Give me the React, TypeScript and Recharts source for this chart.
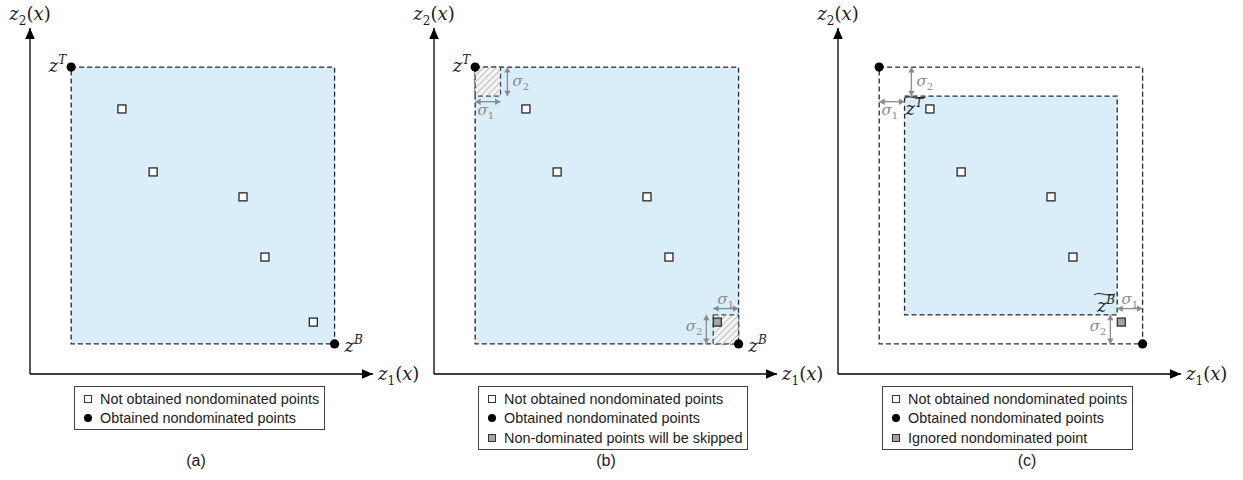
import type { ReactNode } from 'react';
import {
  ScatterChart,
  Scatter,
  XAxis,
  YAxis,
  ReferenceArea,
  ReferenceLine,
  Legend,
} from 'recharts';

// objective space, both axes on a 0..100 scale
const NOT_OBTAINED = [
  { x: 26.8, y: 76.6 },
  { x: 35.9, y: 58.4 },
  { x: 62.1, y: 51.2 },
  { x: 68.5, y: 33.8 },
];
// the nondominated point closest to z^B
const EDGE_POINT = [{ x: 82.6, y: 15.0 }];
const Z_TOP = { x: 12.0, y: 88.7 };
const Z_BOTTOM = { x: 88.8, y: 8.7 };
const SIGMA_1 = 7.4;
const SIGMA_2 = 8.4;

type MarkerKind = 'open' | 'dot' | 'gray';
interface LegendItem {
  marker: MarkerKind;
  text: string;
}

const LEGEND_A: LegendItem[] = [
  { marker: 'open', text: 'Not obtained nondominated points' },
  { marker: 'dot', text: 'Obtained nondominated points' },
];
const LEGEND_B: LegendItem[] = [
  ...LEGEND_A,
  { marker: 'gray', text: 'Non-dominated points will be skipped' },
];
const LEGEND_C: LegendItem[] = [
  ...LEGEND_A,
  { marker: 'gray', text: 'Ignored nondominated point' },
];

const BLUE = '#daeef9';
const INK = '#1c1c1c';
const DIM = '#8a8a8a';
const SERIF = "'DejaVu Serif', 'Liberation Serif', serif";
const SANS = "'Liberation Sans', Arial, sans-serif";

const CHART_W = 435;
const CHART_H = 480;
const MARGIN = { top: 28, right: 62, bottom: 106, left: 30 };

// ---------- point shapes ----------

const OpenSquare = (p: any) => (
  <rect x={p.cx - 4} y={p.cy - 4} width={8} height={8} fill="#fff" stroke="#262626" strokeWidth={1.3} />
);

const GraySquare = (p: any) => (
  <rect x={p.cx - 4} y={p.cy - 4} width={8} height={8} fill="#a3a3a3" stroke="#333" strokeWidth={1.3} />
);

function ZText({ x, y, sup, anchor = 'start' }: { x: number; y: number; sup: string; anchor?: 'start' | 'end' }) {
  return (
    <text x={x} y={y} textAnchor={anchor} fontFamily={SERIF} fontSize={18} fill={INK} fontStyle="italic">
      z
      <tspan dy={-8} fontSize={12}>
        {sup}
      </tspan>
    </text>
  );
}

const CornerDot = (p: any) => {
  const tag = p.payload?.tag as string | undefined;
  return (
    <g>
      <circle cx={p.cx} cy={p.cy} r={4.6} fill="#000" />
      {tag === 'T' && <ZText x={p.cx - 5} y={p.cy + 5} sup="T" anchor="end" />}
      {tag === 'B' && <ZText x={p.cx + 10} y={p.cy + 8} sup="B" />}
    </g>
  );
};

// z with a wide tilde over it, for the shrunken box corners
function tildeLabel(sup: string, dx: number, dy: number, anchor: 'start' | 'end') {
  return (p: any) => {
    const { x1, y1 } = p;
    const tx = x1 + dx;
    const ty = y1 + dy;
    const left = anchor === 'start' ? tx - 1 : tx - 21;
    const top = ty - 18;
    return (
      <g>
        <ZText x={tx} y={ty} sup={sup} anchor={anchor} />
        <path
          d={`M${left},${top + 1} C${left + 6},${top - 3} ${left + 14},${top + 4} ${left + 21},${top}`}
          fill="none"
          stroke={INK}
          strokeWidth={1}
        />
      </g>
    );
  };
}

// ---------- arrows ----------

function head(x1: number, y1: number, x2: number, y2: number, len: number, half: number) {
  const d = Math.hypot(x2 - x1, y2 - y1) || 1;
  const ux = (x2 - x1) / d;
  const uy = (y2 - y1) / d;
  const bx = x2 - ux * len;
  const by = y2 - uy * len;
  return `${x2},${y2} ${bx - uy * half},${by + ux * half} ${bx + uy * half},${by - ux * half}`;
}

function axisArrow(label: ReactNode, lx: number, ly: number, anchor: 'start' | 'middle') {
  return (p: any) => {
    const { x1, y1, x2, y2 } = p;
    return (
      <g>
        <line x1={x1} y1={y1} x2={x2} y2={y2} stroke="#000" strokeWidth={1.3} />
        <polygon points={head(x1, y1, x2, y2, 11, 4.8)} fill="#000" />
        <text x={x2 + lx} y={y2 + ly} textAnchor={anchor} fontFamily={SERIF} fontSize={18} fill={INK}>
          {label}
        </text>
      </g>
    );
  };
}

const axisText = (n: string) => (
  <>
    <tspan fontStyle="italic">z</tspan>
    <tspan dy={5} fontSize={12}>
      {n}
    </tspan>
    <tspan dy={-5}>(</tspan>
    <tspan fontStyle="italic">x</tspan>)
  </>
);

function sigmaArrow(n: string, lx: number, ly: number, anchor: 'start' | 'middle' | 'end') {
  return (p: any) => {
    const { x1, y1, x2, y2 } = p;
    const mx = (x1 + x2) / 2;
    const my = (y1 + y2) / 2;
    return (
      <g>
        <line x1={x1} y1={y1} x2={x2} y2={y2} stroke={DIM} strokeWidth={1.3} />
        <polygon points={head(x1, y1, x2, y2, 5.5, 3.2)} fill={DIM} />
        <polygon points={head(x2, y2, x1, y1, 5.5, 3.2)} fill={DIM} />
        <text x={mx + lx} y={my + ly} textAnchor={anchor} fontFamily={SERIF} fontSize={15} fill={DIM}>
          <tspan fontStyle="italic">σ</tspan>
          <tspan dy={4} fontSize={10}>
            {n}
          </tspan>
        </text>
      </g>
    );
  };
}

const hatchShape = (id: string) => (p: any) => (
  <g>
    <defs>
      <pattern id={id} width={4.5} height={4.5} patternUnits="userSpaceOnUse" patternTransform="rotate(45)">
        <rect width={4.5} height={4.5} fill="#f4f4f4" />
        <line x1={0} y1={0} x2={0} y2={4.5} stroke="#9b9b9b" strokeWidth={1.2} />
      </pattern>
    </defs>
    <rect
      x={p.x}
      y={p.y}
      width={p.width}
      height={p.height}
      fill={`url(#${id})`}
      stroke="#3f4d5c"
      strokeWidth={1.3}
      strokeDasharray="5 3"
    />
  </g>
);

// ---------- legend ----------

function Marker({ kind }: { kind: MarkerKind }) {
  if (kind === 'dot') {
    return <span style={{ width: 8, height: 8, borderRadius: '50%', background: '#000' }} />;
  }
  return (
    <span
      style={{
        width: 6,
        height: 6,
        border: '1.2px solid #333',
        background: kind === 'gray' ? '#a3a3a3' : '#fff',
      }}
    />
  );
}

function LegendBox({ items }: { items: LegendItem[] }) {
  return (
    <div
      style={{
        border: '1px solid #404040',
        background: '#fff',
        padding: '2px 5px 1px 0',
        fontFamily: SANS,
        fontSize: 14.4,
        color: INK,
        whiteSpace: 'nowrap',
      }}
    >
      {items.map((it) => (
        <div key={it.text} style={{ display: 'flex', alignItems: 'center', height: 19.5 }}>
          <span style={{ width: 12, marginLeft: 7, marginRight: 6, display: 'flex', justifyContent: 'center' }}>
            <Marker kind={it.marker} />
          </span>
          <span>{it.text}</span>
        </div>
      ))}
    </div>
  );
}

// ---------- one panel ----------

interface PanelProps {
  variant: 'a' | 'b' | 'c';
  left: number;
  caption: string;
  captionX: number;
  legend: LegendItem[];
}

function Panel({ variant, left, caption, captionX, legend }: PanelProps) {
  const corners = [
    { ...Z_TOP, tag: variant === 'c' ? '' : 'T' },
    { ...Z_BOTTOM, tag: variant === 'c' ? '' : 'B' },
  ];
  const innerLeft = Z_TOP.x + SIGMA_1;
  const innerTop = Z_TOP.y - SIGMA_2;
  const innerRight = Z_BOTTOM.x - SIGMA_1;
  const innerBottom = Z_BOTTOM.y + SIGMA_2;

  return (
    <div style={{ position: 'absolute', left, top: 0, width: CHART_W, height: CHART_H }}>
      <ScatterChart width={CHART_W} height={CHART_H} margin={MARGIN}>
        <XAxis type="number" dataKey="x" domain={[0, 100]} hide />
        <YAxis type="number" dataKey="y" domain={[0, 100]} hide />

        {variant === 'c' ? (
          <>
            <ReferenceArea
              x1={Z_TOP.x}
              x2={Z_BOTTOM.x}
              y1={Z_BOTTOM.y}
              y2={Z_TOP.y}
              fill="none"
              stroke="#262626"
              strokeWidth={1.3}
              strokeDasharray="5 3"
              ifOverflow="visible"
            />
            <ReferenceArea
              x1={innerLeft}
              x2={innerRight}
              y1={innerBottom}
              y2={innerTop}
              fill={BLUE}
              fillOpacity={1}
              stroke="#262626"
              strokeWidth={1.3}
              strokeDasharray="5 3"
              ifOverflow="visible"
            />
          </>
        ) : (
          <ReferenceArea
            x1={Z_TOP.x}
            x2={Z_BOTTOM.x}
            y1={Z_BOTTOM.y}
            y2={Z_TOP.y}
            fill={BLUE}
            fillOpacity={1}
            stroke="#262626"
            strokeWidth={1.3}
            strokeDasharray="5 3"
            ifOverflow="visible"
          />
        )}

        {variant === 'b' && (
          <ReferenceArea
            x1={Z_TOP.x}
            x2={innerLeft}
            y1={innerTop}
            y2={Z_TOP.y}
            shape={hatchShape('hatch-top')}
            ifOverflow="visible"
          />
        )}
        {variant === 'b' && (
          <ReferenceArea
            x1={innerRight}
            x2={Z_BOTTOM.x}
            y1={Z_BOTTOM.y}
            y2={innerBottom}
            shape={hatchShape('hatch-bottom')}
            ifOverflow="visible"
          />
        )}

        {/* axes with arrow heads */}
        <ReferenceLine
          segment={[{ x: 0, y: 0 }, { x: 0, y: 100 }]}
          ifOverflow="visible"
          shape={axisArrow(axisText('2'), 0, -8, 'middle')}
        />
        <ReferenceLine
          segment={[{ x: 0, y: 0 }, { x: 100, y: 0 }]}
          ifOverflow="visible"
          shape={axisArrow(axisText('1'), 5, 6, 'start')}
        />

        {variant !== 'a' && (
          <>
            <ReferenceLine
              segment={[
                { x: innerLeft + 2, y: Z_TOP.y },
                { x: innerLeft + 2, y: innerTop },
              ]}
              ifOverflow="visible"
              shape={sigmaArrow('2', 5, 4, 'start')}
            />
            <ReferenceLine
              segment={[
                { x: Z_TOP.x, y: innerTop - 1.6 },
                { x: innerLeft, y: innerTop - 1.6 },
              ]}
              ifOverflow="visible"
              shape={sigmaArrow('1', -2, 13, 'middle')}
            />
            <ReferenceLine
              segment={[
                { x: innerRight, y: innerBottom + 1.8 },
                { x: Z_BOTTOM.x, y: innerBottom + 1.8 },
              ]}
              ifOverflow="visible"
              shape={sigmaArrow('1', 0, -5, 'middle')}
            />
            <ReferenceLine
              segment={[
                { x: innerRight - 2, y: innerBottom },
                { x: innerRight - 2, y: Z_BOTTOM.y },
              ]}
              ifOverflow="visible"
              shape={sigmaArrow('2', -4, 2, 'end')}
            />
          </>
        )}

        {variant === 'c' && (
          <>
            <ReferenceLine
              segment={[
                { x: innerLeft, y: innerTop },
                { x: innerLeft + 0.01, y: innerTop },
              ]}
              ifOverflow="visible"
              shape={tildeLabel('T', 1, 19, 'start')}
            />
            <ReferenceLine
              segment={[
                { x: innerRight, y: innerBottom },
                { x: innerRight + 0.01, y: innerBottom },
              ]}
              ifOverflow="visible"
              shape={tildeLabel('B', -2, -3, 'end')}
            />
          </>
        )}

        <Scatter data={NOT_OBTAINED} shape={OpenSquare} isAnimationActive={false} />
        <Scatter
          data={EDGE_POINT}
          shape={variant === 'a' ? OpenSquare : GraySquare}
          isAnimationActive={false}
        />
        <Scatter data={corners} shape={CornerDot} isAnimationActive={false} />

        <Legend
          layout="vertical"
          align="center"
          verticalAlign="middle"
          wrapperStyle={{ left: 74, top: 386, width: 'auto', height: 'auto' }}
          content={() => <LegendBox items={legend} />}
        />
      </ScatterChart>
      <div
        style={{
          position: 'absolute',
          left: captionX - 30,
          width: 60,
          top: 452,
          textAlign: 'center',
          fontFamily: SANS,
          fontSize: 16,
          color: INK,
        }}
      >
        {caption}
      </div>
    </div>
  );
}

export default function App() {
  return (
    <div
      style={{
        position: 'absolute',
        left: 0,
        top: 0,
        width: 1243,
        height: 480,
        background: '#fff',
        overflow: 'hidden',
      }}
    >
      <Panel variant="a" left={0} caption="(a)" captionX={196} legend={LEGEND_A} />
      <Panel variant="b" left={404} caption="(b)" captionX={202} legend={LEGEND_B} />
      <Panel variant="c" left={808} caption="(c)" captionX={219} legend={LEGEND_C} />
    </div>
  );
}
